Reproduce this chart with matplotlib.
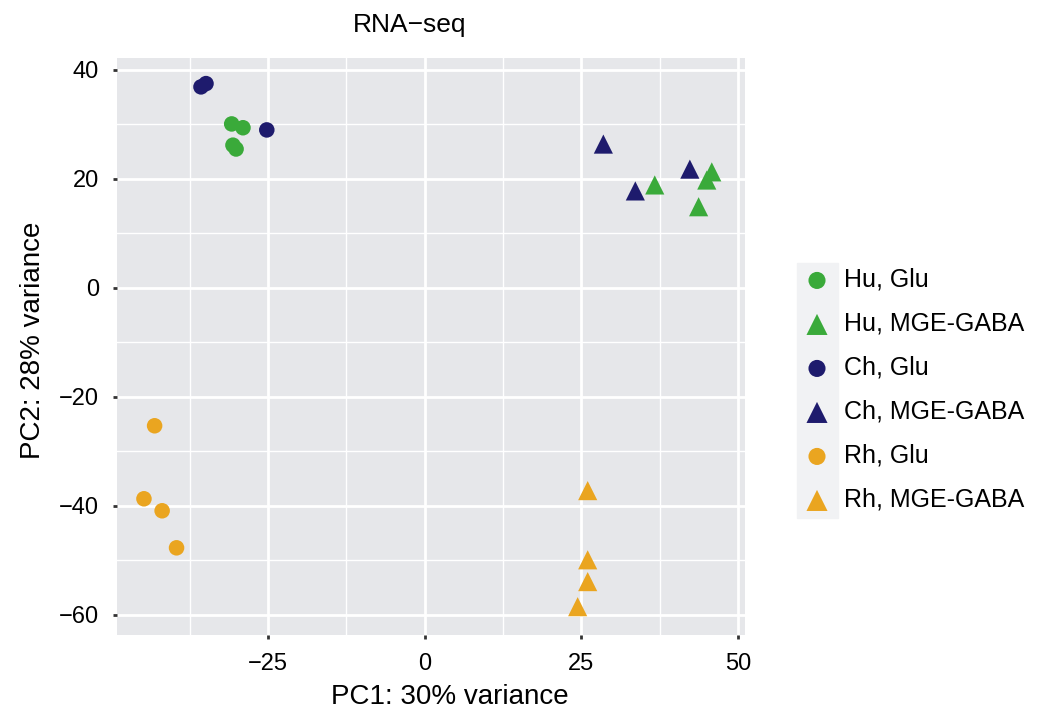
import matplotlib
matplotlib.use("Agg")
import matplotlib.pyplot as plt
from matplotlib.patches import Rectangle
from matplotlib.ticker import FuncFormatter, MultipleLocator

plt.rcParams["font.family"] = ["Liberation Sans", "DejaVu Sans"]

# ---- data ---- #
hu_glu_x = [-30.8, -29.0, -30.6, -30.1]
hu_glu_y = [30.1, 29.4, 26.2, 25.5]
hu_gaba_x = [36.7, 45.8, 45.0, 43.7]
hu_gaba_y = [18.9, 21.3, 19.8, 14.9]
ch_glu_x = [-35.7, -34.9, -25.2]
ch_glu_y = [36.9, 37.5, 29.0]
ch_gaba_x = [28.5, 33.6, 42.3]
ch_gaba_y = [26.4, 17.8, 21.8]
rh_glu_x = [-43.1, -44.8, -41.9, -39.6]
rh_glu_y = [-25.3, -38.7, -40.9, -47.7]
rh_gaba_x = [26.0, 26.0, 26.0, 24.4]
rh_gaba_y = [-37.2, -49.9, -53.9, -58.5]

labels = ["Hu, Glu", "Hu, MGE-GABA", "Ch, Glu", "Ch, MGE-GABA", "Rh, Glu", "Rh, MGE-GABA"]

GREEN, NAVY, ORANGE = "#3aaa3a", "#1e1b6d", "#eaa520"
PANEL = "#e6e7ea"

groups = [
    (hu_glu_x, hu_glu_y, GREEN, "o"),
    (hu_gaba_x, hu_gaba_y, GREEN, "^"),
    (ch_glu_x, ch_glu_y, NAVY, "o"),
    (ch_gaba_x, ch_gaba_y, NAVY, "^"),
    (rh_glu_x, rh_glu_y, ORANGE, "o"),
    (rh_gaba_x, rh_gaba_y, ORANGE, "^"),
]

W, H = 1038, 717
fig = plt.figure(figsize=(W / 100, H / 100), dpi=100)
ax = fig.add_axes([117 / W, 1 - 635 / H, 628 / W, 577 / H])
ax.set_facecolor(PANEL)

for (xs, ys, col, mk), lab in zip(groups, labels):
    ax.scatter(xs, ys, s=125 if mk == "o" else 190, marker=mk, color=col,
               edgecolors="none", label=lab, zorder=3)

ax.set_xlim(-49.1, 51.1)
ax.set_ylim(-63.7, 42.2)
ax.xaxis.set_major_locator(MultipleLocator(25))
ax.xaxis.set_minor_locator(MultipleLocator(12.5))
ax.yaxis.set_major_locator(MultipleLocator(20))
ax.yaxis.set_minor_locator(MultipleLocator(10))
ax.grid(which="major", color="white", lw=2.0, zorder=0)
ax.grid(which="minor", color="white", lw=1.0, zorder=0)
ax.set_axisbelow(True)
for s in ax.spines.values():
    s.set_visible(False)
ax.tick_params(which="major", length=3, width=2, color="#333333",
               labelsize=17, pad=10)
ax.tick_params(which="minor", length=0)
fmt = FuncFormatter(lambda v, p: f"{v:.0f}".replace("-", "\u2212"))
ax.xaxis.set_major_formatter(fmt)
ax.yaxis.set_major_formatter(fmt)

ax.set_xlabel("PC1: 30% variance", fontsize=20)
ax.xaxis.label.set_va("center")
ax.xaxis.set_label_coords((450 - 117) / 628, (635 - 697) / 577)
ax.set_ylabel("PC2: 28% variance", fontsize=20)
ax.yaxis.label.set_va("center")
ax.yaxis.set_label_coords((33 - 117) / 628, (635 - 340) / 577)
ax.set_title("RNA\u2212seq", fontsize=19, x=(410 - 117) / 628,
             y=(635 - 25) / 577, va="center", pad=0)

# grey key background behind the legend symbols, like ggplot
fig.add_artist(Rectangle((797 / W, 1 - 518 / H), 41 / W, 255 / H,
                         transform=fig.transFigure, color="#f1f2f4", zorder=0))
ax.legend(loc="center left", bbox_to_anchor=(802 / W, 1 - 390 / H),
          bbox_transform=fig.transFigure, frameon=False, fontsize=18,
          labelspacing=0.8, handlelength=1.2, handletextpad=0.5,
          borderpad=0, borderaxespad=0, scatterpoints=1, markerscale=1.1)

fig.savefig("out.png", dpi=100)
